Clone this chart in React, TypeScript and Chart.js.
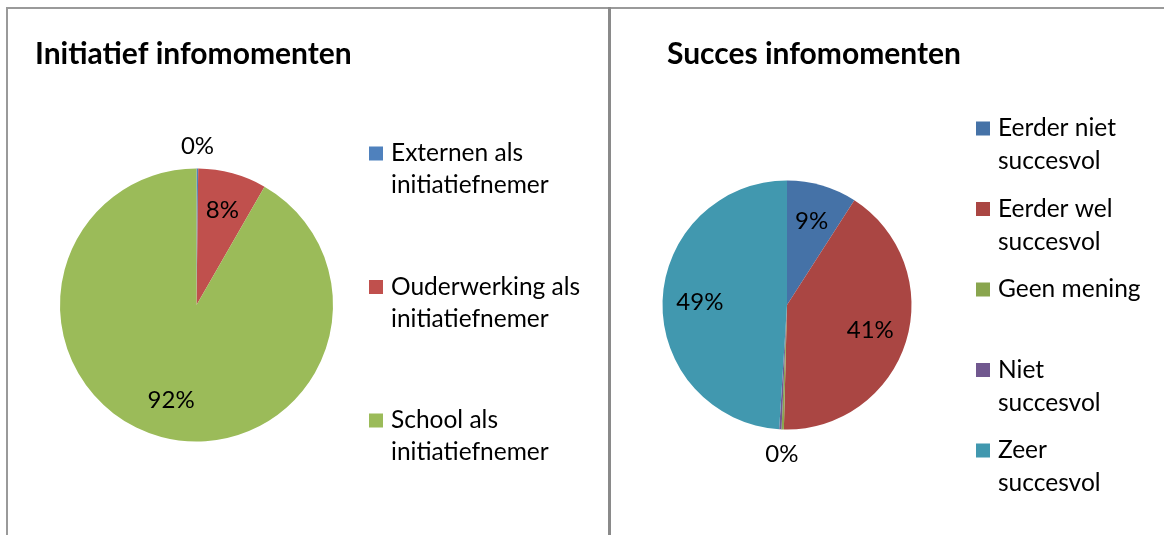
import React, { useEffect, useRef } from "react";
import { Chart, registerables } from "chart.js";

Chart.register(...registerables);

// ---------- data ----------
const initiatiefTitle = "Initiatief infomomenten";
const initiatiefLabels = [
  ["Externen als", "initiatiefnemer"],
  ["Ouderwerking als", "initiatiefnemer"],
  ["School als", "initiatiefnemer"],
];
const initiatiefValues = [0.2, 8.1, 91.7];
const initiatiefColors = ["#4F81BD", "#C0504D", "#9BBB59"];

const succesTitle = "Succes infomomenten";
const succesLabels = [
  ["Eerder niet", "succesvol"],
  ["Eerder wel", "succesvol"],
  ["Geen mening"],
  ["Niet", "succesvol"],
  ["Zeer", "succesvol"],
];
const succesValues = [9.1, 41.3, 0.3, 0.3, 49.0];
const succesColors = ["#4572A7", "#AA4643", "#89A54E", "#71588F", "#4198AF"];

const FONT = "Lato, Carlito, 'Open Sans', sans-serif";

// ---------- plugin: title, legend, data labels ----------
const decorPlugin = {
  id: "decor",
  afterDraw(chart: any, _args: any, opts: any) {
    const ctx = chart.ctx as CanvasRenderingContext2D;
    const ds = chart.data.datasets[0];
    const values: number[] = ds.data as number[];
    const colors: string[] = ds.backgroundColor as string[];
    const labels: string[][] = chart.data.labels as string[][];
    const total = values.reduce((a, b) => a + b, 0);

    ctx.save();
    // title
    ctx.fillStyle = "#000";
    ctx.font = `bold ${opts.titleSize}px ${FONT}`;
    ctx.textBaseline = "alphabetic";
    ctx.textAlign = "left";
    ctx.fillText(opts.title, opts.titleX, opts.titleY);

    // legend
    ctx.font = `${opts.textSize}px ${FONT}`;
    ctx.textBaseline = "middle";
    labels.forEach((lines, i) => {
      const cy = opts.legendY + i * opts.legendSpacing;
      ctx.fillStyle = colors[i];
      ctx.fillRect(opts.legendX, cy - opts.box / 2, opts.box, opts.box);
      ctx.fillStyle = "#000";
      lines.forEach((ln, k) => {
        ctx.fillText(ln, opts.legendX + opts.box + opts.gap, cy + k * opts.lineHeight);
      });
    });

    // data labels
    const meta = chart.getDatasetMeta(0);
    ctx.textAlign = "center";
    ctx.font = `${opts.labelSize}px ${FONT}`;
    const drawn: { x: number; y: number; t: string }[] = [];
    meta.data.forEach((arc: any, i: number) => {
      const p = arc.getProps(["x", "y", "startAngle", "endAngle", "outerRadius"], true);
      const pct = (values[i] / total) * 100;
      const text = Math.round(pct) + "%";
      const mid = (p.startAngle + p.endAngle) / 2;
      const d = pct < 1 ? p.outerRadius + opts.outsideOffset : p.outerRadius * opts.insideFrac;
      const x = p.x + Math.cos(mid) * d;
      const y = p.y + Math.sin(mid) * d;
      if (drawn.some((q) => q.t === text && Math.hypot(q.x - x, q.y - y) < 20)) return;
      drawn.push({ x, y, t: text });
      ctx.fillStyle = "#000";
      ctx.fillText(text, x, y);
    });
    ctx.restore();
  },
};

type PieProps = {
  left: number;
  width: number;
  height: number;
  labels: string[][];
  values: number[];
  colors: string[];
  padding: { left: number; right: number; top: number; bottom: number };
  decor: any;
};

function PieChart(props: PieProps) {
  const ref = useRef<HTMLCanvasElement | null>(null);
  useEffect(() => {
    if (!ref.current) return;
    const chart = new Chart(ref.current, {
      type: "pie",
      data: {
        labels: props.labels as any,
        datasets: [
          {
            data: props.values,
            backgroundColor: props.colors,
            borderWidth: 0,
          },
        ],
      },
      options: {
        responsive: false,
        animation: false,
        layout: { padding: props.padding },
        plugins: {
          legend: { display: false },
          title: { display: false },
          tooltip: { enabled: false },
          decor: props.decor,
        } as any,
      },
      plugins: [decorPlugin],
    });
    return () => chart.destroy();
  }, []);
  return (
    <canvas
      ref={ref}
      width={props.width}
      height={props.height}
      style={{ position: "absolute", left: props.left, top: 0, width: props.width, height: props.height }}
    />
  );
}

export default function App() {
  return (
    <div style={{ position: "absolute", left: 0, top: 0, width: 1164, height: 535, background: "#fff", overflow: "hidden" }}>
      <PieChart
        left={0}
        width={608}
        height={535}
        labels={initiatiefLabels}
        values={initiatiefValues}
        colors={initiatiefColors}
        padding={{ left: 60, right: 275, top: 168.5, bottom: 93.5 }}
        decor={{
          title: initiatiefTitle,
          titleX: 35,
          titleY: 64,
          titleSize: 30,
          textSize: 24.5,
          labelSize: 24,
          legendX: 369,
          legendY: 153.5,
          legendSpacing: 133.5,
          lineHeight: 32,
          box: 14,
          gap: 8,
          insideFrac: 0.72,
          outsideOffset: 22,
        }}
      />
      <PieChart
        left={611}
        width={553}
        height={535}
        labels={succesLabels}
        values={succesValues}
        colors={succesColors}
        padding={{ left: 51.5, right: 252.5, top: 180.5, bottom: 105.5 }}
        decor={{
          title: succesTitle,
          titleX: 56,
          titleY: 64,
          titleSize: 30,
          textSize: 24.5,
          labelSize: 24,
          legendX: 365,
          legendY: 128.5,
          legendSpacing: 80.5,
          lineHeight: 33,
          box: 14,
          gap: 8,
          insideFrac: 0.7,
          outsideOffset: 25,
        }}
      />
      {/* frame lines */}
      <div style={{ position: "absolute", left: 6, top: 7, width: 1158, height: 1.5, background: "#9a9a9a" }} />
      <div style={{ position: "absolute", left: 6, top: 7, width: 1.5, height: 528, background: "#9a9a9a" }} />
      <div style={{ position: "absolute", left: 608, top: 7, width: 3, height: 528, background: "#8a8a8a" }} />
    </div>
  );
}
